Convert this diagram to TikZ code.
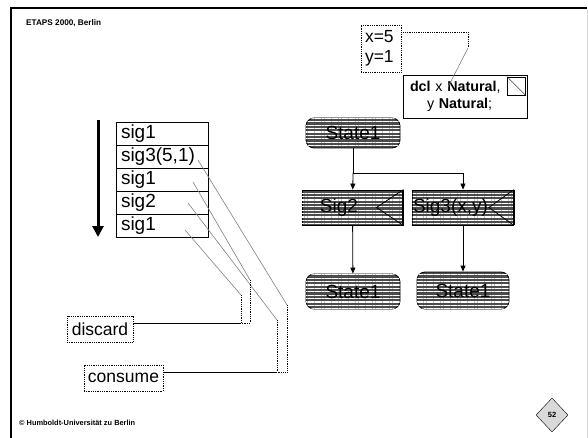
\documentclass[tikz,border=0pt]{standalone}
\usepackage{fontspec}
\setmainfont{Liberation Sans}
\usetikzlibrary{positioning,arrows.meta,shapes.geometric,patterns.meta}

\begin{document}
\begin{tikzpicture}[
  x=1pt, y=-1pt,
  node distance=0pt,
  big/.style={font=\fontsize{19pt}{21pt}\selectfont},
  mid/.style={font=\fontsize{17.5pt}{20pt}\selectfont},
  hatched/.style={draw, fill=black!70, line width=0.8pt,
    postaction={pattern={Lines[angle=0,distance=3.4pt,line width=1.3pt]}, pattern color=white}},
  state/.style={hatched, big, rounded corners=8pt, minimum width=94pt, minimum height=30pt},
  sigbox/.style={hatched, minimum width=101pt, minimum height=35pt, inner sep=1pt},
  row/.style={draw, big, minimum width=92pt, minimum height=23pt, text width=82pt,
              align=left, inner xsep=5pt, inner ysep=0pt, outer sep=0pt, line width=0.8pt},
  note/.style={draw, densely dotted, mid, align=left, line width=0.8pt},
  arr/.style={-{Triangle[length=6pt,width=5pt]}, line width=0.8pt},
  feed/.style={gray, line width=0.6pt},
  drop/.style={densely dotted, line width=0.8pt}
]
  \useasboundingbox (0,0) rectangle (588,438);

  % Frame
  \draw[line width=2.5pt] (11,438) -- (11,8) -- (587,8);
  \draw[black!15] (587,10) -- (587,438);
  \node[anchor=west, inner sep=0pt, font=\bfseries\fontsize{8.2pt}{9pt}\selectfont] (venue) at (26,23) {ETAPS 2000, Berlin};
  \node[anchor=west, inner sep=0pt, font=\bfseries\fontsize{7.4pt}{8pt}\selectfont] (owner) at (19,423) {© Humboldt-Universität zu Berlin};
  \node[diamond, draw, fill=gray!30, minimum width=32pt, minimum height=34pt, inner sep=0pt,
        font=\bfseries\fontsize{7.5pt}{8pt}\selectfont] (page) at (552,415) {52};

  % Declaration
  \node[note, minimum width=40pt, minimum height=47pt, text width=32pt, inner xsep=4pt] (vals) at (381,48.5) {x=5\\y=1};
  \node[draw, minimum width=124pt, minimum height=43pt, text width=110pt, align=left, line width=0.8pt,
        font=\fontsize{14.3pt}{17pt}\selectfont] (dcl) at (465,96.5)
        {\textbf{dcl} x \textbf{Natural},\\\hspace*{17pt}y \textbf{Natural};};
  \node[draw, minimum size=18pt, inner sep=0pt, anchor=north east] (kind) at ([xshift=-2pt,yshift=-2pt]dcl.north east) {};
  \draw (kind.north west) -- (kind.south east);
  \coordinate (v1) at (468,32);
  \coordinate (v2) at (468,48);
  \draw[drop] (vals.east |- v1) -- (v1) -- (v2);
  \draw[feed] (v2) -- ([xshift=-17pt,yshift=9.5pt]dcl.center);

  % Transition
  \node[state] (st0) at (353,133) {State1};
  \node[sigbox, label={[big, xshift=-13.5pt]center:Sig2}] (sig2) at (352.5,207.5) {};
  \node[sigbox, label={[big, xshift=-12.5pt]center:Sig3(x,y)}] (sig3) at (463,207.5) {};
  \draw[line width=0.8pt] (sig2.north east) -- ([xshift=-27pt]sig2.east) -- (sig2.south east);
  \draw[line width=0.8pt] (sig3.north east) -- ([xshift=-25pt]sig3.east) -- (sig3.south east);
  \draw[line width=2pt] (sig2.north east) -- (sig2.south east);
  \draw[line width=2pt] (sig3.north east) -- (sig3.south east);
  \node[state, minimum height=35pt] (st1) at (353,291.5) {State1};
  \node[state, minimum width=92pt, minimum height=37pt] (st2) at (463,290.5) {State1};

  \coordinate (fork) at (353,173);
  \draw[line width=0.8pt] (st0) -- (fork);
  \draw[arr] (fork) -- (sig2);
  \draw[arr] (fork) -| (sig3);
  \draw[arr] (sig2) -- (st1);
  \draw[arr] (sig3) -- (st2);

  % Queue
  \node[row] (r1) at (162,133.5) {sig1};
  \node[row, below=of r1] (r2) {sig3(5,1)};
  \node[row, below=of r2] (r3) {sig1};
  \node[row, below=of r3] (r4) {sig2};
  \node[row, below=of r4] (r5) {sig1};
  \coordinate (qtop) at (98,120);
  \coordinate (qend) at (98,237);
  \draw[line width=3pt, -{Triangle[length=11pt,width=11pt]}] (qtop) -- (qend);

  \node[note, minimum width=66pt, minimum height=26pt] (discard) at (100,329) {discard};
  \node[note, minimum width=79pt, minimum height=26pt] (consume) at (123.5,378) {consume};

  % Consumed and discarded signals
  \coordinate (b2) at (287,305);
  \coordinate (k2) at (287,372);
  \coordinate (b4) at (277,320);
  \coordinate (k4) at (277,372);
  \coordinate (b3) at (250,280);
  \coordinate (k3) at (250,323);
  \coordinate (b5) at (241,295);
  \coordinate (k5) at (241,323);
  \draw[feed] ([xshift=-10pt,yshift=-3.5pt]r2.east) -- (b2);
  \draw[feed] ([xshift=-15pt,yshift=-2.5pt]r3.east) -- (b3);
  \draw[feed] ([xshift=-20pt,yshift=-0.5pt]r4.east) -- (b4);
  \draw[feed] ([xshift=-23pt,yshift=-4.5pt]r5.east) -- (b5);
  \draw[drop] (b2) -- (k2) -- (k4);
  \draw[drop] (b4) -- (k4);
  \draw[line width=0.8pt] (k4) -- (k4 -| consume.east);
  \draw[drop] (b3) -- (k3) -- (k5);
  \draw[drop] (b5) -- (k5);
  \draw[line width=0.8pt] (k5) -- (k5 -| discard.east);
\end{tikzpicture}
\end{document}
